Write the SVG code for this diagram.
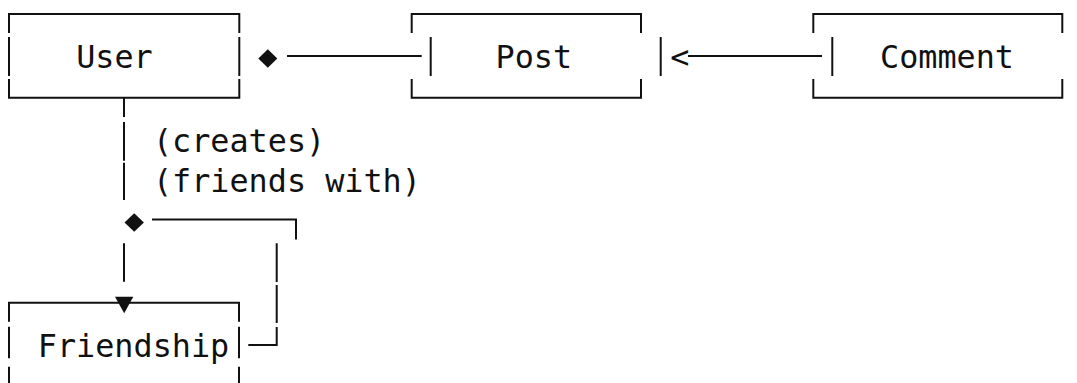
<svg xmlns="http://www.w3.org/2000/svg" width="1077" height="383" viewBox="0 0 1077 383">
  <style>
    .ln { fill: none; stroke: #111; stroke-width: 2; stroke-linecap: butt; }
    .mk { fill: #111; stroke: none; }
    .tx { font-family: "DejaVu Sans Mono", "Liberation Mono", monospace; font-size: 31.8px; fill: #111; }
  </style>
  <rect width="1077" height="383" fill="#ffffff"/>

  <!-- User entity -->
  <g id="node-user">
    <path class="ln" d="M9 33 V14 H239.3 V33 M9 37 V76 M239.3 37 V76 M9 79 V97.7 H239.3 V79"/>
    <text class="tx" x="76.2" y="68.3">User</text>
  </g>

  <!-- Post entity -->
  <g id="node-post">
    <path class="ln" d="M411.7 33 V14 H641 V33 M430.7 37 V76 M660.7 37 V76 M411.7 79 V97.7 H641 V79"/>
    <text class="tx" x="495.5" y="68.3">Post</text>
  </g>

  <!-- Comment entity -->
  <g id="node-comment">
    <path class="ln" d="M813.3 33 V14 H1062.3 V33 M832.3 37 V76 M813.3 79 V97.7 H1062.3 V79"/>
    <text class="tx" x="880" y="68.3">Comment</text>
  </g>

  <!-- Friendship entity -->
  <g id="node-friendship">
    <path class="ln" d="M9 321.7 V302.7 H239 V321.7 M9 326.7 V358.3 M239 326.7 V358.3 M9 366.7 V383 M239 366.7 V383"/>
    <text class="tx" x="37.8" y="356.7">Friendship</text>
  </g>

  <!-- Relationships -->
  <g id="connectors">
    <!-- User composes Post -->
    <polygon class="mk" points="258.3,58.5 267.8,49.2 277.3,58.5 267.8,67.8"/>
    <path class="ln" d="M287 56 H421.7"/>

    <!-- Comment points to Post -->
    <text class="tx" x="670.3" y="68.3">&lt;</text>
    <path class="ln" d="M688 56 H822"/>

    <!-- User down to Friendship -->
    <path class="ln" d="M124 97.7 V117 M124 122 V160.7 M124 162.7 V200 M124 243.3 V281.7"/>
    <text class="tx" x="152.9" y="151.7">(creates)</text>
    <text class="tx" x="152.9" y="191.7">(friends with)</text>
    <polygon class="mk" points="124.5,222.5 134.2,213.3 143.9,222.5 134.2,231.7"/>
    <polygon class="mk" points="115,296.7 133.3,296.7 124.2,313.3"/>

    <!-- self-referencing loop back into Friendship -->
    <path class="ln" d="M152 219.5 H296 V239.5 M276.7 243.3 V282 M276.7 285 V323 M276.7 327 V345 H248.3"/>
  </g>
</svg>
